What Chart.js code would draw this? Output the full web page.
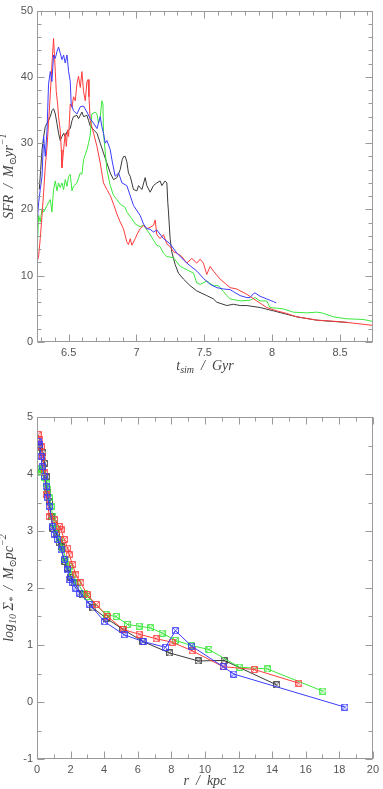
<!DOCTYPE html>
<html><head><meta charset="utf-8">
<script src="https://cdn.jsdelivr.net/npm/chart.js@4/dist/chart.umd.min.js"></script>
<style>
html,body{margin:0;padding:0;background:#fff;}
#c1{position:absolute;left:0;top:0;}
#c2{position:absolute;left:0;top:380px;}
</style></head><body>
<canvas id="c1" width="383" height="380"></canvas>
<canvas id="c2" width="383" height="409"></canvas>
<script>
// ---------- Top panel: star formation rate vs simulation time ----------
const sfrTimeTicks = [6.5, 7, 7.5, 8, 8.5];
const sfrValueTicks = [0, 10, 20, 30, 40, 50];
const sfrBlack = [[6.284,23],[6.304,29],[6.316,31],[6.328,32.5],[6.341,33],[6.352,33.4],[6.365,34],[6.377,34.9],[6.389,35.2],[6.402,34.4],[6.414,33],[6.426,31.5],[6.438,30.4],[6.451,31],[6.463,31.5],[6.475,31],[6.488,31.7],[6.500,32],[6.512,32.2],[6.525,33.4],[6.536,34],[6.561,34.2],[6.573,33.7],[6.586,34.2],[6.598,34.7],[6.610,34],[6.635,34.2],[6.647,33.4],[6.659,32.6],[6.684,32],[6.709,31.5],[6.733,30],[6.757,28.5],[6.782,27],[6.807,25.5],[6.831,24.5],[6.856,24.8],[6.880,26],[6.895,27.5],[6.905,28],[6.917,28],[6.929,27.2],[6.941,25.5],[6.954,25],[6.978,23],[7.003,22.8],[7.015,23.6],[7.040,23],[7.064,24.8],[7.076,23.6],[7.101,22.6],[7.125,23.6],[7.150,24],[7.174,24.3],[7.187,23.6],[7.211,24.3],[7.224,24],[7.231,21],[7.236,19.6],[7.248,15.6],[7.260,13.6],[7.285,11.7],[7.309,10.4],[7.346,9.5],[7.395,8.5],[7.445,7.7],[7.518,7.0],[7.567,6.5],[7.592,6.0],[7.666,5.5],[7.714,5.7],[7.764,5.5],[7.813,5.5],[7.911,5.2],[8.009,4.7],[8.181,3.8],[8.328,3.3],[8.450,3.1],[8.561,2.95]];
const sfrBlue = [[6.267,17.5],[6.279,21],[6.291,23],[6.304,25],[6.316,31],[6.328,28],[6.341,32],[6.352,38.9],[6.365,40.8],[6.377,39.3],[6.389,43.3],[6.402,42.8],[6.414,43.8],[6.426,44.5],[6.438,43.6],[6.451,42.6],[6.463,43.3],[6.475,42.1],[6.488,43.3],[6.500,40.8],[6.512,39.3],[6.519,35.9],[6.536,34.9],[6.561,34.4],[6.586,35.5],[6.610,35.6],[6.635,34.7],[6.659,33.7],[6.684,33],[6.709,32.2],[6.733,34],[6.745,32.5],[6.757,31.5],[6.770,30],[6.782,30.4],[6.807,29],[6.819,27.5],[6.843,25],[6.868,25.5],[6.893,24],[6.929,23.6],[6.978,20.6],[7.027,19.1],[7.052,17.8],[7.076,17.1],[7.101,17],[7.125,16.6],[7.150,16.9],[7.199,15.6],[7.248,14.8],[7.298,13.4],[7.371,11.9],[7.445,10.7],[7.493,9.6],[7.543,8.7],[7.592,8.2],[7.641,8.0],[7.690,7.9],[7.714,7.6],[7.764,7.0],[7.813,6.7],[7.837,6.7],[7.862,7.3],[7.874,7.4],[7.911,6.9],[7.960,6.5],[8.009,6.1],[8.030,5.9]];
const sfrRed = [[6.267,12.0],[6.279,13.0],[6.291,15.6],[6.304,19.1],[6.316,22.6],[6.328,26.5],[6.341,29.5],[6.352,33],[6.365,37.4],[6.377,41.8],[6.389,45.8],[6.402,40.8],[6.409,37.8],[6.419,35.9],[6.426,34],[6.438,32],[6.446,29],[6.451,26.3],[6.463,29],[6.475,31.5],[6.483,29.5],[6.492,32],[6.500,31],[6.512,35.9],[6.525,35.4],[6.536,37],[6.549,36.4],[6.561,38.9],[6.573,40.1],[6.586,38.4],[6.598,40.8],[6.610,37.8],[6.623,36.4],[6.635,39.3],[6.643,39.6],[6.650,37],[6.659,33.4],[6.684,31.5],[6.709,29.5],[6.733,27],[6.757,24],[6.782,23],[6.807,22.1],[6.831,20.8],[6.856,19.3],[6.880,18.1],[6.904,17.1],[6.929,15.1],[6.941,14.7],[6.954,15.6],[6.966,14.6],[6.991,15.6],[7.003,16.2],[7.027,17.1],[7.052,17.6],[7.076,17.1],[7.101,17.3],[7.125,17.6],[7.138,18.4],[7.150,16.2],[7.174,15.6],[7.199,16.2],[7.224,14.8],[7.248,14.4],[7.273,13.6],[7.298,13.4],[7.334,12.9],[7.371,11.9],[7.408,12.6],[7.445,11.9],[7.469,12.5],[7.493,11.9],[7.518,10.2],[7.543,11.4],[7.567,10.7],[7.616,9.5],[7.690,8.2],[7.739,8.0],[7.813,7.2],[7.886,6.2],[7.960,5.2],[8.034,4.7],[8.107,4.3],[8.181,3.8],[8.328,3.3],[8.475,3.1],[8.573,2.9],[8.662,2.7],[8.743,2.5]];
const sfrGreen = [[6.267,13.4],[6.279,19.1],[6.291,18.1],[6.304,20.1],[6.316,19.6],[6.341,20.6],[6.365,21.5],[6.377,19.6],[6.389,23],[6.402,24.3],[6.414,22.8],[6.426,24],[6.438,23.3],[6.451,24],[6.463,23],[6.475,24.5],[6.488,23.5],[6.500,25],[6.512,25.3],[6.525,22.8],[6.536,23.5],[6.561,24],[6.586,25.5],[6.598,25.3],[6.610,27.5],[6.635,29],[6.647,30],[6.659,31.2],[6.671,34.4],[6.696,34.7],[6.709,34.4],[6.720,33],[6.733,34],[6.745,36.4],[6.753,35.9],[6.757,31.5],[6.782,26],[6.807,23.6],[6.831,22.1],[6.856,21.5],[6.880,20.8],[6.917,20.3],[6.929,19.6],[6.966,18.6],[6.991,17.8],[7.027,17.4],[7.052,17.6],[7.088,16.6],[7.125,15.4],[7.150,14.6],[7.174,14.4],[7.199,13.4],[7.224,12.9],[7.273,12.7],[7.322,11.4],[7.371,10.9],[7.420,10.4],[7.445,8.9],[7.469,8.7],[7.518,9.2],[7.567,8.5],[7.604,8.5],[7.641,7.6],[7.666,7.0],[7.690,6.5],[7.764,6.2],[7.837,6.3],[7.874,6.7],[7.911,6.2],[7.960,6.2],[7.984,5.2],[8.034,5.1],[8.082,5.0],[8.156,4.5],[8.254,4.4],[8.328,4.5],[8.365,4.4],[8.451,3.8],[8.549,3.5],[8.671,3.4],[8.743,3.1]];

// ---------- Bottom panel: surface density profiles ----------
const radiusTicks = [0, 2, 4, 6, 8, 10, 12, 14, 16, 18, 20];
const densityTicks = [-1, 0, 1, 2, 3, 4, 5];
const profBlack = [[0.06,4.48],[0.15,4.46],[0.35,4.37],[0.45,4.19],[0.55,3.95],[0.64,3.67],[0.74,3.52],[0.84,3.26],[0.94,3.05],[1.14,2.96],[1.33,2.79],[1.43,2.73],[1.63,2.47],[1.82,2.35],[2.02,2.18],[2.21,2.09],[2.7,1.88],[3.33,1.65],[4.12,1.47],[5.09,1.28],[6.31,1.06],[7.9,0.86],[9.6,0.72],[11.14,0.73],[14.27,0.30]];
const profBlue = [[0.06,4.57],[0.15,4.51],[0.25,4.31],[0.31,4.13],[0.45,3.96],[0.55,3.78],[0.65,3.58],[0.74,3.43],[0.94,3.08],[1.04,2.94],[1.23,2.85],[1.43,2.67],[1.63,2.50],[1.82,2.32],[1.92,2.15],[2.12,2.09],[2.31,2.0],[2.55,1.91],[3.14,1.71],[4.02,1.41],[5.19,1.18],[6.33,1.06],[7.65,0.96],[8.24,1.25],[9.21,0.98],[11.08,0.62],[11.72,0.49],[18.33,-0.09]];
const profRed = [[0.06,4.69],[0.16,4.60],[0.25,4.48],[0.35,4.31],[0.45,4.02],[0.55,3.64],[0.74,3.25],[1.04,3.2],[1.33,3.08],[1.43,3.02],[1.63,2.85],[1.82,2.70],[1.92,2.58],[2.12,2.41],[2.31,2.23],[2.61,2.09],[3.0,1.88],[3.53,1.71],[4.21,1.50],[5.14,1.27],[6.08,1.19],[7.09,1.11],[8.04,1.05],[9.23,0.90],[11.08,0.62],[12.94,0.57],[15.59,0.33]];
const profGreen = [[0.0,4.1],[0.06,4.08],[0.16,4.05],[0.25,4.02],[0.35,4.08],[0.45,3.93],[0.55,3.84],[0.65,3.72],[0.74,3.58],[0.84,3.43],[0.94,3.26],[1.04,3.14],[1.14,3.02],[1.33,2.85],[1.53,2.70],[1.72,2.50],[1.92,2.38],[2.12,2.23],[2.41,2.09],[2.8,1.91],[3.0,1.85],[4.12,1.53],[4.71,1.50],[5.39,1.36],[6.08,1.33],[6.76,1.30],[7.45,1.21],[8.24,1.08],[9.21,0.99],[10.24,0.92],[12.06,0.61],[13.72,0.58],[17.02,0.19]];

// ---------- styling ----------
const COL = {black:'#3a3a3a', blue:'#3c3cff', red:'#ff3c3c', green:'#3ce83c'};
const AXIS = '#9a9a9a', LABEL = '#555';
const tickFont = {family:"'Liberation Sans', Arial, sans-serif", size:11};
const titleStyle = {family:"'Liberation Serif', 'DejaVu Serif', serif", size:14, small:10, color:'#444'};

const toXY = arr => arr.map(p => ({x:p[0], y:p[1]}));

function frameTicks(o){
  return {id:'frameTicks'+Math.random(), afterDraw(chart){
    const ctx=chart.ctx, a=chart.chartArea, xs=chart.scales.x, ys=chart.scales.y;
    const L=Math.round(a.left)+0.5, R=Math.round(a.right)-0.5, T=Math.round(a.top)+0.5, B=Math.round(a.bottom)-0.5;
    ctx.save(); ctx.strokeStyle=AXIS; ctx.lineWidth=1;
    ctx.strokeRect(L,T,R-L,B-T);
    const steps=(min,max,st)=>{const out=[];const n0=Math.ceil(min/st-1e-6),n1=Math.floor(max/st+1e-6);for(let n=n0;n<=n1;n++)out.push(n*st);return out;};
    const major=(v,st)=>Math.abs(v/st-Math.round(v/st))<1e-6;
    ctx.beginPath();
    for(const v of steps(xs.min,xs.max,o.xMinor)){
      const p=Math.round(xs.getPixelForValue(v))+0.5, len=major(v,o.xMajor)?o.major:o.minor;
      ctx.moveTo(p,B);ctx.lineTo(p,B-len);ctx.moveTo(p,T);ctx.lineTo(p,T+len);
    }
    for(const v of steps(ys.min,ys.max,o.yMinor)){
      const p=Math.round(ys.getPixelForValue(v))+0.5, len=major(v,o.yMajor)?o.major:o.minor;
      ctx.moveTo(L,p);ctx.lineTo(L+len,p);ctx.moveTo(R,p);ctx.lineTo(R-len,p);
    }
    ctx.stroke(); ctx.restore();
  }};
}
function drawRich(ctx,segs,cx,cy){
  const f=s=>`italic ${(s.sub||s.sup)?titleStyle.small:titleStyle.size}px ${titleStyle.family}`;
  let w=0; segs.forEach(s=>{ctx.font=f(s); w+=ctx.measureText(s.t).width;});
  let x=cx-w/2;
  segs.forEach(s=>{ctx.font=f(s); const dy=s.sub?titleStyle.size*0.32:(s.sup?-titleStyle.size*0.38:0); ctx.fillText(s.t,x,cy+dy); x+=ctx.measureText(s.t).width;});
}
function richTitles(xSegs,ySegs,xGap,yX){
  return {id:'richTitles'+Math.random(), afterDraw(chart){
    const ctx=chart.ctx,a=chart.chartArea;
    ctx.save(); ctx.fillStyle=titleStyle.color; ctx.textBaseline='middle'; ctx.textAlign='left';
    drawRich(ctx,xSegs,(a.left+a.right)/2,a.bottom+xGap);
    ctx.translate(yX,(a.top+a.bottom)/2); ctx.rotate(-Math.PI/2);
    drawRich(ctx,ySegs,0,0);
    ctx.restore();
  }};
}
function markerImg(color){
  const c=document.createElement('canvas'); c.width=7; c.height=7;
  const g=c.getContext('2d'); g.strokeStyle=color; g.lineWidth=1; g.globalAlpha=0.85;
  g.beginPath();
  g.moveTo(0.5,0.5); g.lineTo(6.5,0.5); g.moveTo(0.5,6.5); g.lineTo(6.5,6.5);
  g.moveTo(0.5,0.5); g.lineTo(0.5,6.5); g.moveTo(6.5,0.5); g.lineTo(6.5,6.5);
  g.moveTo(1,1); g.lineTo(6,6); g.moveTo(6,1); g.lineTo(1,6);
  g.stroke();
  return c;
}
function axisOpts(min,max,tickList,fitKey,fitVal){
  return {type:'linear',min,max,
    grid:{display:false,drawTicks:false}, border:{display:false},
    ticks:{color:LABEL,font:tickFont,padding:4,maxRotation:0,autoSkip:false,callback:v=>String(v)},
    afterBuildTicks:s=>{s.ticks=tickList.map(v=>({value:v}));},
    afterFit:s=>{s[fitKey]=fitVal;}};
}

// ---------- Top chart ----------
const lineDs=(lab,arr,c)=>({label:lab,data:toXY(arr),borderColor:c,borderWidth:1,pointRadius:0,tension:0,fill:false});
new Chart(document.getElementById('c1'),{
  type:'line',
  data:{datasets:[lineDs('blue',sfrBlue,COL.blue),lineDs('red',sfrRed,COL.red),lineDs('green',sfrGreen,COL.green),lineDs('black',sfrBlack,COL.black)]},
  options:{responsive:false,animation:false,devicePixelRatio:1,
    layout:{padding:{left:0,right:10,top:5,bottom:0}},
    plugins:{legend:{display:false},tooltip:{enabled:false}},
    scales:{x:axisOpts(6.267,8.743,sfrTimeTicks,'height',38), y:axisOpts(0,50,sfrValueTicks,'width',37)}},
  plugins:[frameTicks({xMinor:0.1,xMajor:0.5,yMinor:2,yMajor:10,major:7,minor:4}),
    richTitles([{t:'t'},{t:'sim',sub:1},{t:'  /  Gyr'}],[{t:'SFR  /  M'},{t:'⊙',sub:1},{t:'yr'},{t:'−1',sup:1}],24,9)]
});

// ---------- Bottom chart ----------
const profDs=(lab,arr,c)=>({label:lab,data:toXY(arr),borderColor:c,borderWidth:1,pointStyle:markerImg(c),pointRadius:3.5,tension:0,fill:false});
new Chart(document.getElementById('c2'),{
  type:'line',
  data:{datasets:[profDs('blue',profBlue,COL.blue),profDs('red',profRed,COL.red),profDs('green',profGreen,COL.green),profDs('black',profBlack,COL.black)]},
  options:{responsive:false,animation:false,devicePixelRatio:1,
    layout:{padding:{left:0,right:6,top:37,bottom:0}},
    plugins:{legend:{display:false},tooltip:{enabled:false}},
    scales:{x:axisOpts(0,20,radiusTicks,'height',30), y:axisOpts(-1,5,densityTicks,'width',37)}},
  plugins:[frameTicks({xMinor:1,xMajor:2,yMinor:0.5,yMajor:1,major:7,minor:4}),
    richTitles([{t:'r  /  kpc'}],[{t:'log'},{t:'10',sub:1},{t:' Σ'},{t:'*',sub:1},{t:'  /  M'},{t:'⊙',sub:1},{t:'pc'},{t:'−2',sup:1}],22,9)]
});
</script></body></html>
